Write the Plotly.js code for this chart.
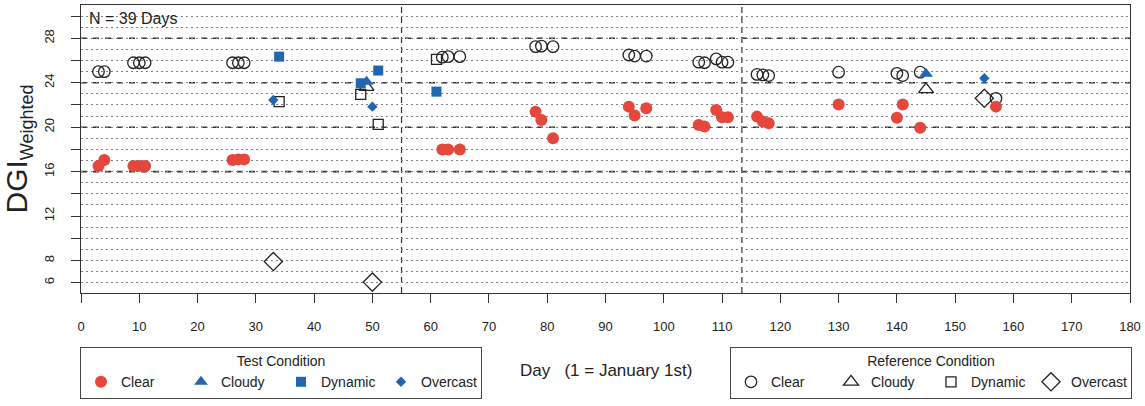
<!DOCTYPE html>
<html>
<head>
<meta charset="utf-8">
<script src="https://cdn.plot.ly/plotly-3.0.1.min.js"></script>
<style>html,body{margin:0;padding:0;background:#fff;}#chart{width:1145px;height:406px;}</style>
</head>
<body>
<div id="chart"></div>
<script>
// ---- data ----
const testClearDay = [3,4, 9,10,11, 26,27,28, 62,63,65, 78,79,81, 94,95,97, 106,107,109,110,111, 116,117,118, 130, 140,141, 144, 157];
const testClearDGI = [16.5,17.05, 16.5,16.5,16.5, 17.05,17.1,17.1, 18.0,18.0,18.0, 21.4,20.65,19.0, 21.85,21.05,21.7, 20.2,20.05,21.55,20.9,20.9, 20.95,20.5,20.35, 22.05, 20.85,22.05, 19.95, 21.85];
const testCloudyDay = [49, 145];
const testCloudyDGI = [24.1, 24.8];
const testDynamicDay = [34, 48, 51, 61];
const testDynamicDGI = [26.35, 23.95, 25.1, 23.2];
const testOvercastDay = [33, 50, 155];
const testOvercastDGI = [22.45, 21.85, 24.4];

const refClearDay = [3,4, 9,10,11, 26,27,28, 62,63,65, 78,79,81, 94,95,97, 106,107,109,110,111, 116,117,118, 130, 140,141, 144, 157];
const refClearDGI = [25.0,25.0, 25.8,25.8,25.8, 25.8,25.8,25.8, 26.3,26.35,26.35, 27.25,27.3,27.25, 26.5,26.4,26.4, 25.85,25.8,26.15,25.85,25.85, 24.75,24.7,24.65, 24.95, 24.85,24.65, 24.95, 22.6];
const refCloudyDay = [49, 145];
const refCloudyDGI = [23.6, 23.4];
const refDynamicDay = [34, 48, 51, 61];
const refDynamicDGI = [22.3, 22.95, 20.25, 26.1];
const refOvercastDay = [33, 50, 155];
const refOvercastDGI = [7.9, 6.05, 22.6];

const xTicks = [0,10,20,30,40,50,60,70,80,90,100,110,120,130,140,150,160,170,180];
const yTickVals = [6,8,10,12,14,16,18,20,22,24,26,28,30];
const yTickText = ['6','8',' ','12',' ','16',' ','20',' ','24',' ','28',' '];
const dashedLevels = [16,20,24,28];
const dividerDays = [55, 113.4];
const xTitle = 'Day   (1 = January 1st)';

// ---- styles ----
const RED = '#e5473c', BLUE = '#2166ae', INK = '#222';
const FONT = 'Liberation Sans, Arial, sans-serif';
const DOT = '#7d828a';

const traces = [
  {name:'Clear', x:refClearDay, y:refClearDGI, legend:'legend2',
   marker:{symbol:'circle-open', size:11.5, color:INK, line:{width:1.3}}},
  {name:'Cloudy', x:refCloudyDay, y:refCloudyDGI, legend:'legend2',
   marker:{symbol:'triangle-up-open', size:13, color:INK, line:{width:1.3}}},
  {name:'Dynamic', x:refDynamicDay, y:refDynamicDGI, legend:'legend2',
   marker:{symbol:'square-open', size:10, color:INK, line:{width:1.3}}},
  {name:'Overcast', x:refOvercastDay, y:refOvercastDGI, legend:'legend2',
   marker:{symbol:'diamond-open', size:14, color:INK, line:{width:1.3}}},
  {name:'Clear', x:testClearDay, y:testClearDGI, legend:'legend',
   marker:{symbol:'circle', size:12, color:RED}},
  {name:'Cloudy', x:testCloudyDay, y:testCloudyDGI, legend:'legend',
   marker:{symbol:'triangle-up', size:12, color:BLUE}},
  {name:'Dynamic', x:testDynamicDay, y:testDynamicDGI, legend:'legend',
   marker:{symbol:'square', size:10, color:BLUE}},
  {name:'Overcast', x:testOvercastDay, y:testOvercastDGI, legend:'legend',
   marker:{symbol:'diamond', size:8, color:BLUE}}
].map(t => Object.assign({type:'scatter', mode:'markers', hoverinfo:'x+y'}, t));

const shapes = [];
dashedLevels.forEach(v => shapes.push({type:'line', xref:'paper', x0:0, x1:1, yref:'y', y0:v, y1:v,
  line:{color:'#333', width:1.6, dash:'6px,6px'}, layer:'below'}));
dividerDays.forEach(d => shapes.push({type:'line', xref:'x', x0:d, x1:d, yref:'paper', y0:0, y1:1,
  line:{color:'#333', width:1.2, dash:'6px,4px'}, layer:'below'}));

const legendCommon = {
  orientation:'h', xref:'container', yref:'container', yanchor:'top', y:1 - 347/406, xanchor:'left',
  bordercolor:'#444', borderwidth:1, bgcolor:'rgba(0,0,0,0)',
  font:{family:FONT, size:14, color:INK}, itemwidth:30, entrywidth:55, tracegroupgap:0
};

const layout = {
  width:1145, height:406,
  margin:{l:81, r:15, t:5, b:113},
  paper_bgcolor:'#fff', plot_bgcolor:'#fff',
  font:{family:FONT, color:INK, size:14},
  showlegend:true,
  xaxis:{
    range:[0,180], tickmode:'array', tickvals:xTicks,
    ticks:'outside', ticklen:9, tickwidth:1, tickcolor:'#333',
    showline:true, linecolor:'#333', linewidth:1, mirror:true,
    showgrid:false, zeroline:false,
    tickfont:{size:13, family:FONT}, ticklabelstandoff:12,
    automargin:false
  },
  yaxis:{
    range:[5.07,31.0], tickmode:'array', tickvals:yTickVals, ticktext:yTickText,
    ticks:'outside', ticklen:9, tickwidth:1, tickcolor:'#333', tickangle:-90,
    showline:true, linecolor:'#333', linewidth:1, mirror:true,
    showgrid:true, gridcolor:DOT, griddash:'1.5px,3.5px', gridwidth:1,
    minor:{tickmode:'linear', tick0:5, dtick:1, showgrid:true, gridcolor:DOT, griddash:'1.5px,3.5px', gridwidth:1, ticks:''},
    zeroline:false,
    tickfont:{size:13, family:FONT}, ticklabelstandoff:12,
    title:{text:'DGI<sub><span style="font-size:18px">Weighted</span></sub>', font:{size:30, family:FONT}, standoff:6},
    automargin:false
  },
  legend: Object.assign({}, legendCommon, {x:80/1145, title:{text:'Test Condition', side:'top center', font:{family:FONT, size:14}}}),
  legend2: Object.assign({}, legendCommon, {x:730/1145, title:{text:'Reference Condition', side:'top center', font:{family:FONT, size:14}}}),
  shapes: shapes,
  annotations:[
    {text:'N = 39 Days', xref:'paper', yref:'paper', x:0, y:1, xanchor:'left', yanchor:'top',
     xshift:6, yshift:-3, showarrow:false, font:{size:16, family:FONT, color:INK}},
    {text:xTitle, xref:'paper', yref:'paper', x:0.5, y:0, xanchor:'center', yanchor:'middle',
     yshift:-77, showarrow:false, font:{size:17, family:FONT, color:INK}}
  ]
};

Plotly.newPlot('chart', traces, layout, {displayModeBar:false, staticPlot:true});
</script>
</body>
</html>
